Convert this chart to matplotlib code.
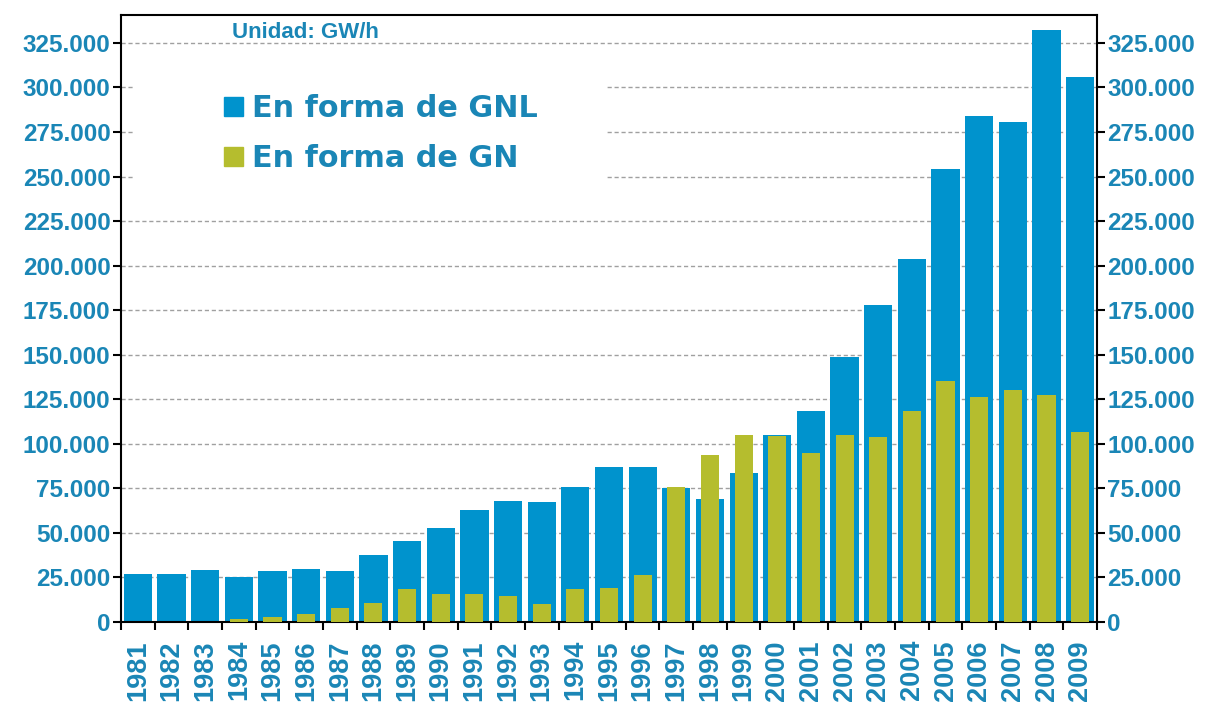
import matplotlib
matplotlib.use("Agg")
import matplotlib.pyplot as plt
from matplotlib.patches import Patch, Rectangle
from matplotlib.ticker import FuncFormatter
import numpy as np

years = [str(y) for y in range(1981, 2010)]
gnl = [27000, 27000, 29000, 25000, 28500, 29500, 28500, 37500, 45500, 53000,
       63000, 68000, 67500, 75500, 87000, 87000, 75000, 69000, 83500, 105000,
       118500, 149000, 178000, 204000, 254500, 284000, 280500, 332000, 306000]
gn = [0, 0, 0, 1800, 3000, 4300, 8000, 10500, 18500, 15900,
      15900, 14600, 10100, 18500, 19000, 26500, 76000, 93500, 105000, 104500,
      95000, 105000, 103800, 118500, 135500, 126500, 130000, 127500, 106500]

blue = "#0093cd"
green = "#b5bd2e"
txt = "#1a86b6"
arial = "Liberation Sans"

fig = plt.figure(figsize=(12.11, 7.15), dpi=100)
ax = fig.add_axes([0.0999, 0.1301, 0.806, 0.849])

x = np.arange(len(years))
ax.bar(x, gnl, width=0.84, color=blue, zorder=2)
ax.bar(x, gn, width=0.54, color=green, zorder=3)

ax.set_xlim(-0.5, len(years) - 0.5)
ax.set_ylim(0, 340700)

# y axis on both sides, "." as thousands separator
ax.set_yticks(np.arange(0, 325001, 25000))
ax.yaxis.set_major_formatter(FuncFormatter(lambda v, p: f"{int(v):,}".replace(",", ".")))
ax.grid(axis="y", linestyle=(0, (3, 2)), color="#a0a0a0", linewidth=1, zorder=0)
ax.set_axisbelow(True)
ax.tick_params(axis="y", length=6, width=1.5, direction="out", labelsize=17.5,
               labelcolor=txt, right=True, labelright=True, pad=1.5)
for tk in ax.yaxis.get_major_ticks():
    for lab in (tk.label1, tk.label2):
        lab.set_fontweight("bold")
        lab.set_family(arial)

# years centred under bars, ticks between bars
ax.set_xticks(x)
ax.set_xticklabels(years, rotation=90, fontweight="bold", family=arial)
ax.set_xticks(np.arange(-0.5, len(years)), minor=True)
ax.tick_params(axis="x", which="major", length=0, pad=13, labelsize=19.5, labelcolor=txt)
ax.tick_params(axis="x", which="minor", length=6, width=1.5, direction="out")

for s in ax.spines.values():
    s.set_linewidth(1.5)
    s.set_color("black")

ax.text(0.114, 0.988, "Unidad: GW/h", transform=ax.transAxes, ha="left", va="top",
        fontsize=16, fontweight="bold", color=txt, family=arial)

# white panel behind legend hides the grid lines there
ax.add_patch(Rectangle((0.014, 0.705), 0.484, 0.235, transform=ax.transAxes,
                       facecolor="white", edgecolor="none", zorder=1))

handles = [Patch(color=blue, label="En forma de GNL"),
           Patch(color=green, label="En forma de GN")]
leg = ax.legend(handles=handles, loc="upper left", bbox_to_anchor=(0.078, 0.915),
                prop={"size": 21.8, "weight": "bold"}, labelcolor=txt,
                handlelength=0.6, handleheight=0.6, handletextpad=0.3,
                labelspacing=0.7, frameon=False)
leg.set_zorder(5)

fig.savefig("out.png", dpi=100)
